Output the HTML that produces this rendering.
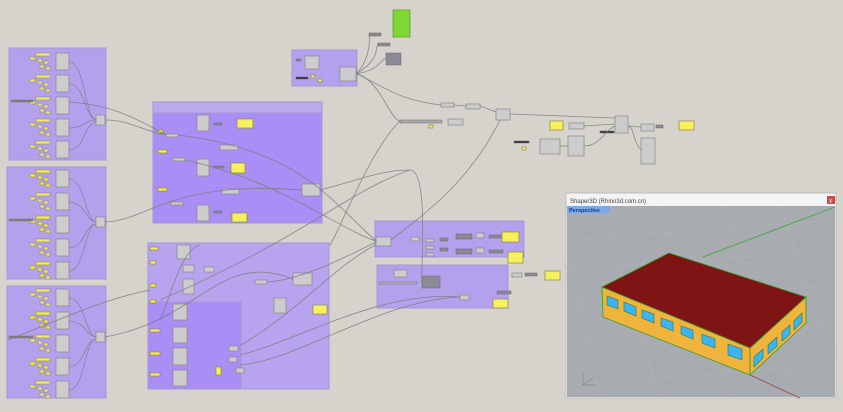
<!DOCTYPE html>
<html><head><meta charset="utf-8"><style>
body{margin:0;background:#d6d3cc;}
svg{display:block;font-family:"Liberation Sans",sans-serif;}
</style></head><body>
<svg width="843" height="412" viewBox="0 0 843 412" xmlns="http://www.w3.org/2000/svg">
<rect width="843" height="412" fill="#d6d3cc"/>
<defs>
<g id="row">
<rect x="0" y="0" width="14" height="3" fill="#f2ec5a" stroke="#8a8440" stroke-width="0.5"/>
<rect x="-6" y="4" width="5" height="3" fill="#f2ec5a" stroke="#8a8440" stroke-width="0.5"/>
<rect x="2" y="6" width="4" height="3" fill="#f2ec5a" stroke="#8a8440" stroke-width="0.5"/>
<rect x="8" y="8" width="4" height="3" fill="#f2ec5a" stroke="#8a8440" stroke-width="0.5"/>
<rect x="4" y="12" width="4" height="3" fill="#f2ec5a" stroke="#8a8440" stroke-width="0.5"/>
<rect x="10" y="14" width="4" height="3" fill="#f2ec5a" stroke="#8a8440" stroke-width="0.5"/>
<rect x="20" y="0" width="13" height="17" fill="#cdcccc" stroke="#888" stroke-width="0.7"/>
</g>
</defs>
<g stroke="#a596d8" stroke-width="1">
<rect x="9" y="48" width="97" height="112" fill="#b3a1ee"/>
<rect x="7" y="167" width="99" height="112" fill="#b3a1ee"/>
<rect x="7" y="286" width="99" height="112" fill="#b3a1ee"/>
<rect x="153" y="102" width="169" height="121" fill="#a98ef5"/>
<rect x="153" y="102" width="169" height="11" fill="#bba9ee"/>
<rect x="148" y="243" width="181" height="146" fill="#b8a4ee"/>
<rect x="148" y="302" width="93" height="87" fill="#a98ef5"/>
<rect x="375" y="221" width="149" height="36" fill="#b3a1ee"/>
<rect x="377" y="265" width="131" height="43" fill="#b3a1ee"/>
<rect x="292" y="50" width="65" height="36" fill="#b3a1ee"/>
</g>
<g>
<use href="#row" x="36" y="53"/><use href="#row" x="36" y="75"/><use href="#row" x="36" y="97"/><use href="#row" x="36" y="119"/><use href="#row" x="36" y="141"/>
<use href="#row" x="36" y="170"/><use href="#row" x="36" y="193"/><use href="#row" x="36" y="216"/><use href="#row" x="36" y="239"/><use href="#row" x="36" y="262"/>
<use href="#row" x="36" y="289"/><use href="#row" x="36" y="312"/><use href="#row" x="36" y="335"/><use href="#row" x="36" y="358"/><use href="#row" x="36" y="381"/>
</g>
<g fill="none" stroke="#6f6f6f" stroke-width="0.6" opacity="0.8">
<path d="M69 62 C85 62 85 118 96 120"/><path d="M69 84 C85 84 85 118 96 120"/><path d="M69 128 C85 128 85 120 96 120"/><path d="M69 150 C85 150 85 122 96 122"/>
<path d="M69 179 C85 179 85 220 96 222"/><path d="M69 202 C85 202 85 220 96 222"/><path d="M69 248 C85 248 85 224 96 224"/><path d="M69 271 C85 271 85 224 96 224"/>
<path d="M69 298 C85 298 85 335 96 337"/><path d="M69 321 C85 321 85 335 96 337"/><path d="M69 367 C85 367 85 339 96 339"/><path d="M69 390 C85 390 85 339 96 339"/>
</g>
<g fill="#cdcccc" stroke="#888" stroke-width="0.7">
<rect x="96" y="115" width="9" height="10"/><rect x="96" y="217" width="9" height="10"/><rect x="96" y="332" width="9" height="10"/>
<rect x="11" y="100" width="22" height="2" fill="#777"/><rect x="9" y="219" width="24" height="2" fill="#777"/><rect x="9" y="336" width="24" height="2" fill="#777"/>
<rect x="197" y="115" width="12" height="16"/><rect x="197" y="159" width="12" height="17"/><rect x="197" y="205" width="12" height="16"/>
<rect x="166" y="134" width="12" height="3"/><rect x="173" y="158" width="12" height="3"/><rect x="171" y="202" width="12" height="3"/>
<rect x="220" y="145" width="18" height="5"/><rect x="222" y="189" width="17" height="5"/><rect x="302" y="184" width="18" height="12"/>
<rect x="177" y="245" width="13" height="14"/><rect x="183" y="265" width="11" height="7"/><rect x="183" y="279" width="11" height="15"/>
<rect x="204" y="267" width="10" height="5"/><rect x="255" y="280" width="12" height="4"/><rect x="293" y="273" width="19" height="12"/>
<rect x="173" y="304" width="14" height="16"/><rect x="173" y="327" width="14" height="16"/><rect x="173" y="348" width="14" height="17"/><rect x="173" y="370" width="14" height="16"/>
<rect x="274" y="298" width="12" height="15"/><rect x="229" y="346" width="9" height="5"/><rect x="229" y="357" width="8" height="5"/><rect x="236" y="368" width="8" height="5"/>
<rect x="376" y="237" width="15" height="9"/><rect x="411" y="237" width="8" height="4"/><rect x="426" y="239" width="8" height="3"/><rect x="426" y="246" width="8" height="3"/><rect x="426" y="253" width="8" height="3"/>
<rect x="476" y="233" width="8" height="5"/><rect x="476" y="248" width="8" height="5"/>
<rect x="394" y="270" width="13" height="7"/><rect x="460" y="295" width="9" height="5"/>
<rect x="512" y="273" width="10" height="4"/>
<rect x="305" y="56" width="14" height="13"/><rect x="340" y="67" width="16" height="14"/>
<rect x="441" y="103" width="13" height="4"/><rect x="466" y="104" width="14" height="5"/><rect x="496" y="109" width="14" height="11"/>
<rect x="448" y="119" width="15" height="6"/><rect x="569" y="123" width="15" height="6"/><rect x="615" y="116" width="13" height="17"/>
<rect x="641" y="124" width="13" height="7"/><rect x="641" y="138" width="14" height="26"/><rect x="540" y="139" width="20" height="15"/><rect x="568" y="136" width="16" height="20"/>
</g>
<g fill="#8d8a98" stroke="#666" stroke-width="0.5">
<rect x="386" y="53" width="15" height="12"/><rect x="422" y="276" width="18" height="12"/>
<rect x="369" y="33" width="12" height="3"/><rect x="378" y="43" width="12" height="3"/>
<rect x="400" y="120" width="42" height="3" fill="#aaa"/><rect x="379" y="282" width="38" height="2" fill="#bbb"/>
<rect x="456" y="234" width="16" height="5"/><rect x="456" y="249" width="16" height="5"/><rect x="440" y="238" width="8" height="3"/><rect x="440" y="248" width="8" height="3"/>
<rect x="489" y="235" width="14" height="3"/><rect x="489" y="250" width="14" height="3"/><rect x="497" y="291" width="14" height="3"/>
<rect x="525" y="273" width="12" height="3"/><rect x="656" y="125" width="7" height="3"/><rect x="514" y="141" width="15" height="2" fill="#333"/><rect x="600" y="131" width="14" height="2" fill="#333"/>
<rect x="214" y="123" width="8" height="2"/><rect x="214" y="166" width="10" height="2"/><rect x="214" y="211" width="8" height="2"/><rect x="296" y="77" width="12" height="2" fill="#333"/><rect x="296" y="59" width="5" height="2"/>
</g>
<g fill="#f6f05e" stroke="#8f8a3a" stroke-width="0.7">
<rect x="237" y="119" width="16" height="9"/><rect x="231" y="163" width="14" height="10"/><rect x="232" y="213" width="15" height="9"/>
<rect x="313" y="305" width="14" height="9"/><rect x="502" y="232" width="17" height="10"/><rect x="508" y="252" width="15" height="11"/><rect x="493" y="299" width="15" height="9"/>
<rect x="545" y="271" width="15" height="9"/><rect x="550" y="121" width="13" height="9"/><rect x="679" y="121" width="15" height="9"/>
<rect x="216" y="367" width="5" height="8"/><rect x="158" y="130" width="5" height="3"/><rect x="158" y="150" width="9" height="3"/><rect x="158" y="188" width="9" height="3"/>
<rect x="150" y="247" width="8" height="3"/><rect x="150" y="261" width="6" height="3"/><rect x="150" y="284" width="6" height="3"/><rect x="150" y="300" width="6" height="3"/>
<rect x="150" y="329" width="10" height="3"/><rect x="150" y="352" width="10" height="3"/><rect x="150" y="373" width="10" height="3"/>
<rect x="429" y="125" width="4" height="3"/><rect x="522" y="147" width="4" height="3"/><rect x="311" y="75" width="4" height="3"/><rect x="318" y="79" width="4" height="3"/>
</g>
<rect x="393" y="10" width="17" height="27" fill="#7ed832" stroke="#5a9a25" stroke-width="0.7"/>
<g fill="none" stroke="#7a7a7a" stroke-width="0.8" opacity="0.85">
<path d="M105 120 C130 120 140 130 166 135"/><path d="M69 102 C110 105 130 115 166 135"/>
<path d="M105 222 C150 220 170 180 302 190"/><path d="M105 337 C200 320 220 250 293 279"/>
<path d="M178 135 C300 150 330 200 376 241"/><path d="M185 160 C280 180 340 230 376 241"/>
<path d="M320 190 C360 180 380 170 410 170 C430 170 420 280 422 282"/>
<path d="M357 74 C390 90 400 100 441 105"/><path d="M357 74 C380 80 390 120 400 121"/>
<path d="M454 105 L466 106"/><path d="M480 106 L496 112"/><path d="M510 114 L615 118"/>
<path d="M356 74 C370 60 370 40 369 34"/><path d="M356 74 C380 60 375 48 378 44"/><path d="M356 74 C380 70 380 60 386 58"/>
<path d="M500 120 C470 180 430 210 391 240"/><path d="M400 121 C370 150 340 230 330 245"/>
<path d="M240 365 C300 360 380 300 460 297"/><path d="M240 355 C300 340 380 290 460 297"/>
<path d="M241 345 C300 310 330 270 375 245"/><path d="M267 282 C300 280 340 260 376 242"/>
<path d="M160 320 C170 300 180 250 200 245"/><path d="M160 300 C300 240 350 190 410 170"/>
<path d="M584 126 L615 124"/><path d="M628 126 L641 127"/><path d="M628 126 C635 128 632 140 641 150"/>
<path d="M560 146 L568 146"/><path d="M584 146 C600 146 605 130 615 126"/>
<path d="M8 340 C60 320 100 300 150 290"/>
</g>
<rect x="566" y="193" width="270" height="205" fill="#f4f4f4" stroke="#bbb"/>
<text x="570" y="203" font-size="6" fill="#444">Shaper3D (Rhino3d.com.cn)</text>
<rect x="827" y="196" width="8" height="8" fill="#c94b4b"/>
<text x="829" y="202.5" font-size="6" fill="#fff">x</text>
<rect x="567" y="206" width="268" height="191" fill="#a8abaf"/>
<g stroke="#b3b6b9" stroke-width="0.5">
<path d="M567 240 L835 220 M567 270 L835 250 M567 305 L835 285 M567 345 L835 325 M567 385 L835 365 M600 206 L660 397 M660 206 L730 397 M720 206 L800 397 M780 206 L835 360 M567 260 L600 397"/>
</g>
<rect x="567" y="206" width="43" height="7" fill="#7ba8e6"/>
<text x="569" y="212" font-size="5.5" font-weight="bold" fill="#1c3a8a">Perspective</text>
<path d="M703 257 L835 207" stroke="#3aa83a" stroke-width="0.8"/>
<path d="M750 375 L800 398" stroke="#a04040" stroke-width="0.8"/>
<polygon points="602,287 750,348 750,375 603,317" fill="#f0b43c" stroke="#3a9a2a" stroke-width="0.8"/>
<polygon points="750,348 806,297 806,323 750,375" fill="#f0b43c" stroke="#3a9a2a" stroke-width="0.8"/>
<polygon points="602,287 669,253 806,297 750,348" fill="#7e1414" stroke="#3a9a2a" stroke-width="0.8"/>
<g fill="#3cb4f4" stroke="#2a7a4a" stroke-width="0.6">
<polygon points="607,296 618,300 618,309 607,305"/><polygon points="624,302 636,307 636,316 624,311"/>
<polygon points="642,310 654,314 654,323 642,318"/><polygon points="661,318 673,322 673,331 661,326"/>
<polygon points="681,326 693,330 693,339 681,334"/><polygon points="702,334 715,339 715,348 702,343"/>
<polygon points="728,344 742,349 742,360 728,355"/>
<polygon points="754,357 763,349 763,358 754,367"/><polygon points="768,345 777,337 777,346 768,354"/>
<polygon points="782,332 790,325 790,334 782,341"/><polygon points="794,321 802,313 802,322 794,330"/>
</g>
<g stroke="#777" stroke-width="0.5" fill="none"><path d="M583 385 L583 372 M583 385 L597 385 M583 385 L593 378"/></g>
</svg>
</body></html>
